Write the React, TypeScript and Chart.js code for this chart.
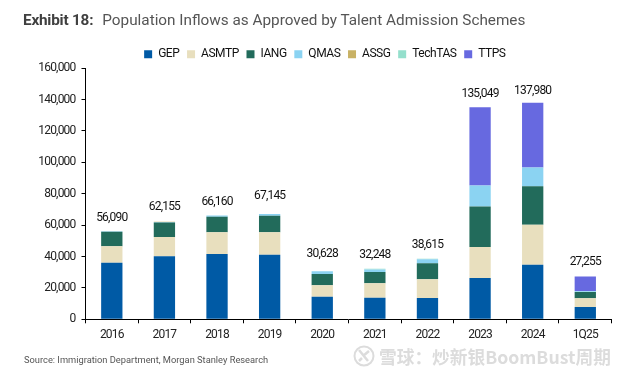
import React, { useEffect, useRef } from "react";
import { Chart, registerables } from "chart.js";

Chart.register(...registerables);

const categories = ["2016", "2017", "2018", "2019", "2020", "2021", "2022", "2023", "2024", "1Q25"];
const GEP = [36000, 40100, 41600, 41200, 14400, 13800, 13600, 26300, 34800, 7850];
const ASMTP = [10500, 12300, 13800, 14200, 7250, 9100, 11850, 19750, 25500, 5520];
const IANG = [9300, 9300, 10000, 10600, 7200, 7200, 10200, 25900, 24400, 4030];
const QMAS = [290, 350, 760, 1145, 1778, 1700, 2600, 13350, 12100, 500];
const ASSG = [0, 105, 0, 0, 0, 0, 0, 0, 0, 0];
const TechTAS = [0, 0, 0, 0, 0, 448, 365, 0, 0, 100];
const TTPS = [0, 0, 0, 0, 0, 0, 0, 49749, 41180, 9255];
const totals = [56090, 62155, 66160, 67145, 30628, 32248, 38615, 135049, 137980, 27255];
const labelLift = [13, 14.5, 13.5, 17.5, 17, 14, 14, 13.5, 12, 14.5];

const FONT = "Roboto, sans-serif";

const totalLabels = {
  id: "totalLabels",
  afterDatasetsDraw(chart: any) {
    const { ctx, scales } = chart;
    ctx.save();
    ctx.font = `12px ${FONT}`;
    ctx.fillStyle = "#111";
    ctx.textAlign = "center";
    ctx.textBaseline = "middle";
    ctx.letterSpacing = "-0.8px";
    totals.forEach((t, i) => {
      const x = scales.x.getPixelForValue(i);
      const y = scales.y.getPixelForValue(t) - labelLift[i];
      ctx.fillText(t.toLocaleString("en-US"), x, y);
    });
    ctx.restore();
  },
};

const condense = {
  id: "condense",
  afterLayout(chart: any) {
    const lg = chart.legend;
    lg.left += 26;
    lg.right += 26;
    lg.top += 2;
    lg.bottom += 2;
  },
  beforeDraw(chart: any) {
    chart.ctx.letterSpacing = "-0.45px";
  },
  afterDatasetsDraw(chart: any) {
    chart.ctx.letterSpacing = "-0.8px";
  },
};

export default function App() {
  const ref = useRef<HTMLCanvasElement>(null);
  useEffect(() => {
    document.body.style.margin = "0";
    const mk = (label: string, data: number[], backgroundColor: string) => ({
      label,
      data,
      backgroundColor,
      stack: "s",
      barPercentage: 0.405,
      categoryPercentage: 1,
    });
    const chart = new Chart(ref.current!, {
      type: "bar",
      data: {
        labels: categories,
        datasets: [
          mk("GEP", GEP, "#005aa5"),
          mk("ASMTP", ASMTP, "#e8dfbe"),
          mk("IANG", IANG, "#226b5b"),
          mk("QMAS", QMAS, "#8bd3f2"),
          mk("ASSG", ASSG, "#c9b265"),
          mk("TechTAS", TechTAS, "#94dfcc"),
          mk("TTPS", TTPS, "#6769e0"),
        ],
      },
      options: {
        animation: false,
        responsive: false,
        layout: { padding: { top: 38.5, right: 18.4, left: 0, bottom: 0 } },
        plugins: {
          title: { display: false },
          tooltip: { enabled: false },
          legend: {
            position: "top",
            labels: {
              boxWidth: 8,
              boxHeight: 8,
              padding: 7.7,
              color: "#111",
              font: { family: FONT, size: 12, lineHeight: 1.05 },
            },
          },
        },
        scales: {
          x: {
            stacked: true,
            afterFit: (s: any) => { s.height = 56.7; },
            border: { color: "#000", width: 1 },
            grid: { offset: true, drawOnChartArea: false, drawTicks: true, tickLength: 4, color: "#000" },
            ticks: { color: "#222", font: { family: FONT, size: 12 }, padding: 4, maxRotation: 0, z: 1 },
          },
          y: {
            stacked: true,
            min: 0,
            max: 160000,
            afterFit: (s: any) => { s.width = 85.5; },
            border: { color: "#000", width: 1 },
            grid: { drawOnChartArea: false, drawTicks: true, tickLength: 4, color: "#000" },
            ticks: {
              stepSize: 20000,
              color: "#222",
              padding: 6,
              z: 1,
              font: { family: FONT, size: 12 },
              callback: (v: any) => Number(v).toLocaleString("en-US"),
            },
          },
        },
      },
      plugins: [condense, totalLabels],
    } as any);
    return () => chart.destroy();
  }, []);
  return (
    <div style={{ position: "relative", width: 630, height: 376, fontFamily: FONT, overflow: "hidden", background: "#fff" }}>
      <canvas ref={ref} width={630} height={376} style={{ display: "block" }} />
      <div style={{ position: "absolute", left: 23, top: 11, fontSize: 15.3, whiteSpace: "nowrap", color: "#555", lineHeight: "18px" }}>
        <b style={{ color: "#404040", letterSpacing: "-0.2px" }}>Exhibit 18:</b>
        <span style={{ marginLeft: 9 }}>Population Inflows as Approved by Talent Admission Schemes</span>
      </div>
      <div style={{ position: "absolute", left: 24, top: 354, fontSize: 9.3, whiteSpace: "nowrap", color: "#555", lineHeight: "12px" }}>
        Source: Immigration Department, Morgan Stanley Research
      </div>
      <svg width={22} height={22} viewBox="0 0 22 22" style={{ position: "absolute", left: 353, top: 345 }}>
        <circle cx={11} cy={11} r={9.5} fill="none" stroke="#dcdcdc" strokeWidth={2} />
        <path d="M6 5 L15 16 M16 6 L10 11 M6 16 L9 13" fill="none" stroke="#dcdcdc" strokeWidth={2.5} />
      </svg>
      <div style={{ position: "absolute", left: 379, top: 344, fontFamily: "'Noto Sans CJK SC', sans-serif", fontWeight: 700, fontSize: 17.7, lineHeight: "24px", whiteSpace: "nowrap", color: "#dcdcdc" }}>
        雪球：炒新银BoomBust周期
      </div>
    </div>
  );
}
